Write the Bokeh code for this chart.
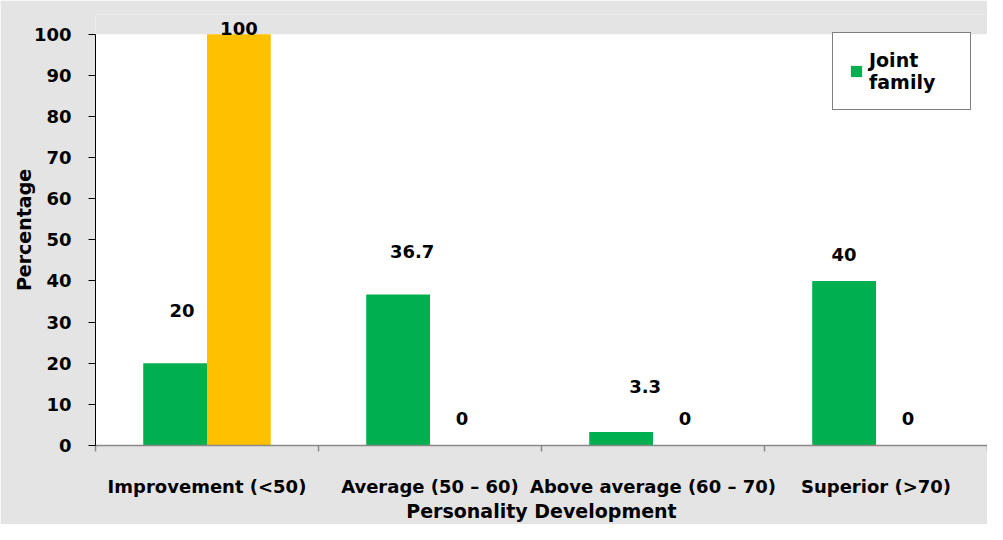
import numpy as np
from bokeh.plotting import figure
from bokeh.models import (Range1d, FixedTicker, CustomJSTickFormatter, Legend,
                          LegendItem, ColumnDataSource, Label, BoxAnnotation)
from bokeh.embed import file_html
from bokeh.resources import INLINE

# ---- data ----
categories = ["Improvement (<50)", "Average (50 \u2013 60)",
              "Above average (60 \u2013 70)", "Superior (>70)"]
joint_family = [20, 36.7, 3.3, 40]
second_series = [100, 0, 0, 0]
joint_labels = ["20", "36.7", "3.3", "40"]
second_labels = ["100", "0", "0", "0"]
y_ticks = [0, 10, 20, 30, 40, 50, 60, 70, 80, 90, 100]
y_min, y_max = 0, 100

# ---- label placement (screen px) ----
joint_dx = [7, 14, 24, 0]
joint_dy = [53, 43, 45, 26]
second_dx = [0, 0, 0, 0]
second_dy = [6, 27, 27, 27]

FONT = "DejaVu Sans"
GREEN = "#00B050"
ORANGE = "#FFC000"
BG = "#E4E4E4"

idx = np.arange(len(categories))
shift = 0.143
bw = 0.286

# extra headroom above 100 (drawn as background) so labels / legend are not clipped
p = figure(width=987, height=524, output_backend="svg", toolbar_location=None,
           x_range=Range1d(0, len(categories)), y_range=Range1d(y_min, y_max * 1.048),
           min_border_left=95, min_border_right=0, min_border_top=14,
           min_border_bottom=76)
p.background_fill_color = BG
p.border_fill_color = BG
p.outline_line_color = None
p.xgrid.visible = False
p.ygrid.visible = False
p.add_layout(BoxAnnotation(bottom=y_min, top=y_max, fill_color="white",
                           fill_alpha=1, line_color=None, level="underlay"))

x_j = idx + 0.5 - shift
x_s = idx + 0.5 + shift
src_j = ColumnDataSource(dict(x=x_j, top=joint_family))
src_s = ColumnDataSource(dict(x=x_s, top=second_series))

r_j = p.vbar(x="x", top="top", width=bw, source=src_j, fill_color=GREEN, line_color=None)
r_s = p.vbar(x="x", top="top", width=bw, source=src_s, fill_color=ORANGE, line_color=None)

for xs, vals, labs, dxs, dys in ((x_j, joint_family, joint_labels, joint_dx, joint_dy),
                                 (x_s, second_series, second_labels, second_dx, second_dy)):
    for xv, yv, t, dx, dy in zip(xs, vals, labs, dxs, dys):
        p.add_layout(Label(x=float(xv), y=yv, text=t, x_offset=dx, y_offset=dy,
                           text_font=FONT, text_font_style="bold",
                           text_font_size="18px", text_align="center",
                           text_baseline="middle", text_color="black"))

# y axis
ya = p.yaxis[0]
ya.ticker = FixedTicker(ticks=y_ticks)
ya.bounds = (y_min, y_max)
ya.axis_line_color = "black"
ya.major_tick_line_color = "black"
ya.major_tick_out = 7
ya.major_tick_in = 0
ya.minor_tick_line_color = None
ya.major_label_standoff = 17
ya.major_label_text_font = FONT
ya.major_label_text_font_style = "bold"
ya.major_label_text_font_size = "18px"
ya.major_label_text_color = "black"
ya.axis_label = "Percentage"
ya.axis_label_text_font = FONT
ya.axis_label_text_font_style = "bold"
ya.axis_label_text_font_size = "19px"
ya.axis_label_text_color = "black"
ya.axis_label_standoff = -4

# x axis
xa = p.xaxis[0]
xa.ticker = FixedTicker(ticks=list(idx + 0.5), minor_ticks=list(range(len(categories) + 1)))
xa.formatter = CustomJSTickFormatter(args=dict(labels=categories),
                                     code="return labels[Math.floor(tick)] || '';")
xa.axis_line_color = "#898989"
xa.axis_line_width = 1.5
xa.major_tick_line_color = None
xa.major_tick_out = 0
xa.major_tick_in = 0
xa.minor_tick_line_color = "#898989"
xa.minor_tick_line_width = 1.5
xa.minor_tick_out = 6
xa.minor_tick_in = 0
xa.major_label_standoff = 24
xa.major_label_text_font = FONT
xa.major_label_text_font_style = "bold"
xa.major_label_text_font_size = "18px"
xa.major_label_text_color = "black"
xa.axis_label = "Personality Development"
xa.axis_label_text_font = FONT
xa.axis_label_text_font_style = "bold"
xa.axis_label_text_font_size = "19px"
xa.axis_label_text_color = "black"
xa.axis_label_standoff = 0

legend = Legend(items=[LegendItem(label="Joint\nfamily", renderers=[r_j])],
                location=(737, 335), orientation="vertical",
                border_line_color="black", border_line_width=1.5,
                background_fill_color="white", background_fill_alpha=1,
                label_text_font=FONT, label_text_font_style="bold",
                label_text_font_size="19px", label_text_color="black",
                label_text_line_height=1.5,
                glyph_width=14, glyph_height=14, label_standoff=6,
                label_width=85, padding=16, margin=0, spacing=0)
p.add_layout(legend)

open("out.html", "w").write(file_html(p, INLINE))
